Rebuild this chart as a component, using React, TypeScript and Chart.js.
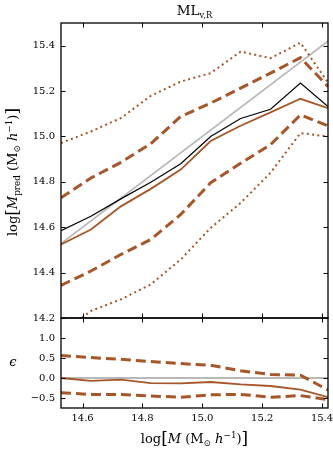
import React, { useEffect, useRef } from "react";
import { Chart, registerables } from "chart.js";
Chart.register(...registerables);

// ---- data ----
const massBins = [14.528, 14.628, 14.728, 14.828, 14.928, 15.028, 15.128, 15.228, 15.328, 15.42];
const oneToOne = [14.528, 15.42];
const medianTrue = [14.585, 14.648, 14.725, 14.798, 14.88, 15.0, 15.079, 15.12, 15.235, 15.132];
const medianPred = [14.524, 14.59, 14.692, 14.769, 14.854, 14.98, 15.047, 15.106, 15.166, 15.125];
const upper68 = [14.73, 14.817, 14.886, 14.968, 15.088, 15.147, 15.213, 15.279, 15.347, 15.22];
const lower68 = [14.344, 14.407, 14.48, 14.546, 14.656, 14.796, 14.882, 14.964, 15.095, 15.047];
const upper95 = [14.971, 15.022, 15.081, 15.179, 15.242, 15.279, 15.374, 15.345, 15.413, 15.238];
const lower95 = [14.13, 14.231, 14.282, 14.348, 14.458, 14.597, 14.707, 14.84, 15.015, 15.0];
const epsMedian = [0.0, -0.07, -0.04, -0.13, -0.135, -0.1, -0.16, -0.2, -0.29, -0.48];
const epsUpper = [0.56, 0.51, 0.47, 0.41, 0.36, 0.32, 0.18, 0.09, 0.07, -0.3];
const epsLower = [-0.37, -0.41, -0.41, -0.45, -0.48, -0.42, -0.41, -0.48, -0.44, -0.54];
const zeroLine = [0, 0];
const xTicks = [14.6, 14.8, 15.0, 15.2, 15.4];
const mainTicks = [14.2, 14.4, 14.6, 14.8, 15.0, 15.2, 15.4];
const residTicks = [-0.5, 0.0, 0.5, 1.0];

const BROWN = "#a65628";
const GREY = "#b8b8b8";
const FONT = "DejaVu Serif";

const pts = (xs: number[], ys: number[]) => xs.map((x, i) => ({ x, y: ys[i] }));

const framePlugin = {
  id: "frame",
  afterDatasetsDraw(chart: any) {
    const { ctx, chartArea: a, scales } = chart;
    const L = 4.5;
    ctx.save();
    ctx.strokeStyle = "#000";
    ctx.lineWidth = 1;
    ctx.beginPath();
    for (const t of scales.x.ticks) {
      const px = Math.round(scales.x.getPixelForValue(t.value)) + 0.5;
      ctx.moveTo(px, a.bottom);
      ctx.lineTo(px, a.bottom - L);
      ctx.moveTo(px, a.top);
      ctx.lineTo(px, a.top + L);
    }
    for (const t of scales.y.ticks) {
      const py = Math.round(scales.y.getPixelForValue(t.value)) + 0.5;
      ctx.moveTo(a.left, py);
      ctx.lineTo(a.left + L, py);
      ctx.moveTo(a.right, py);
      ctx.lineTo(a.right - L, py);
    }
    ctx.stroke();
    ctx.lineWidth = 1.3;
    ctx.strokeRect(a.left, a.top, a.right - a.left, a.bottom - a.top);
    ctx.restore();
  },
};

const line = (data: any[], color: string, width: number, dash: number[] = []) => ({
  data,
  borderColor: color,
  borderWidth: width,
  borderDash: dash,
  borderCapStyle: "butt",
  pointRadius: 0,
  tension: 0,
  fill: false,
});

const setTicks = (vals: number[]) => (s: any) => {
  s.ticks = vals.map((v) => ({ value: v }));
};

const noPad = (s: any) => {
  s.paddingTop = 0;
  s.paddingBottom = 0;
  s.paddingLeft = 0;
  s.paddingRight = 0;
};

const tickFont = { family: FONT, size: 10 };
const fmt = (v: any) => {
  const n = Number(v);
  const s = Math.abs(n).toFixed(1);
  return n < 0 ? "\u2212" + s : s;
};

export default function App() {
  const topRef = useRef<HTMLCanvasElement>(null);
  const botRef = useRef<HTMLCanvasElement>(null);

  useEffect(() => {
    document.body.style.margin = "0";
    const top = new Chart(topRef.current!, {
      type: "line",
      data: {
        datasets: [
          line(pts(massBins, medianTrue), "#000", 1.2),
          line(pts(massBins, medianPred), BROWN, 1.8),
          line(pts(massBins, upper68), BROWN, 3, [10, 5]),
          line(pts(massBins, lower68), BROWN, 3, [10, 5]),
          line(pts(massBins, upper95), BROWN, 2, [2, 3.3]),
          line(pts(massBins, lower95), BROWN, 2, [2, 3.3]),
          line(pts(oneToOne, oneToOne), GREY, 1.8),
        ] as any,
      },
      options: {
        animation: false,
        responsive: false,
        events: [],
        layout: { autoPadding: false, padding: { top: 23, right: 5, bottom: 7, left: 0 } },
        plugins: { legend: { display: false }, tooltip: { enabled: false } },
        scales: {
          x: {
            type: "linear",
            min: 14.528,
            max: 15.42,
            afterBuildTicks: setTicks(xTicks),
            ticks: { display: false },
            grid: { display: false, drawTicks: false },
            border: { display: false },
            afterFit: (s: any) => {
              s.height = 0;
              noPad(s);
            },
          },
          y: {
            type: "linear",
            min: 14.2,
            max: 15.5,
            afterBuildTicks: setTicks(mainTicks),
            ticks: { font: tickFont, color: "#000", padding: 6, callback: fmt },
            grid: { display: false, drawTicks: false },
            border: { display: false },
            afterFit: (s: any) => {
              s.width = 61;
              noPad(s);
            },
          },
        },
      } as any,
      plugins: [framePlugin],
    });

    const bot = new Chart(botRef.current!, {
      type: "line",
      data: {
        datasets: [
          line(pts(massBins, epsMedian), BROWN, 1.8),
          line(pts(massBins, epsUpper), BROWN, 3, [10, 5]),
          line(pts(massBins, epsLower), BROWN, 3, [10, 5]),
          line(pts(oneToOne, zeroLine), GREY, 1.8),
        ] as any,
      },
      options: {
        animation: false,
        responsive: false,
        events: [],
        layout: { autoPadding: false, padding: { top: 6, right: 5, bottom: 0, left: 0 } },
        plugins: { legend: { display: false }, tooltip: { enabled: false } },
        scales: {
          x: {
            type: "linear",
            min: 14.528,
            max: 15.42,
            afterBuildTicks: setTicks(xTicks),
            ticks: { font: tickFont, color: "#000", padding: 4, maxRotation: 0, callback: fmt },
            grid: { display: false, drawTicks: false },
            border: { display: false },
            afterFit: (s: any) => {
              s.height = 41;
              noPad(s);
            },
          },
          y: {
            type: "linear",
            min: -0.75,
            max: 1.5,
            afterBuildTicks: setTicks(residTicks),
            ticks: { font: tickFont, color: "#000", padding: 6, callback: fmt },
            grid: { display: false, drawTicks: false },
            border: { display: false },
            afterFit: (s: any) => {
              s.width = 61;
              noPad(s);
            },
          },
        },
      } as any,
      plugins: [framePlugin],
    });

    return () => {
      top.destroy();
      bot.destroy();
    };
  }, []);

  const sub: React.CSSProperties = { fontSize: "0.68em", verticalAlign: "-0.35em" };
  const sup: React.CSSProperties = { fontSize: "0.68em", verticalAlign: "0.55em" };
  const big: React.CSSProperties = { fontSize: "1.3em", verticalAlign: "-0.08em" };
  const label: React.CSSProperties = {
    position: "absolute",
    fontFamily: FONT,
    fontSize: 13,
    lineHeight: "16px",
    whiteSpace: "nowrap",
    color: "#000",
  };

  return (
    <div style={{ position: "fixed", left: 0, top: 0, width: 333, height: 449, background: "#fff", overflow: "hidden" }}>
      <canvas ref={topRef} width={333} height={325} style={{ position: "absolute", left: 0, top: 0 }} />
      <canvas ref={botRef} width={333} height={137} style={{ position: "absolute", left: 0, top: 312 }} />
      <div style={{ ...label, left: 61, width: 267, top: 2, textAlign: "center", fontSize: 13.5 }}>
        ML<span style={{ ...sub, fontSize: "0.62em" }}>v,R</span>
      </div>
      <div
        style={{
          ...label,
          left: 13,
          top: 172,
          transform: "translate(-50%, -50%) rotate(-90deg)",
        }}
      >
        log<span style={big}>[</span>
        <i>M</i>
        <span style={sub}>pred</span> (M<span style={sub}>⊙</span> <i>h</i>
        <span style={sup}>−1</span>)<span style={big}>]</span>
      </div>
      <div style={{ ...label, left: 13, top: 362, transform: "translate(-50%, -50%)" }}>
        <i>ϵ</i>
      </div>
      <div style={{ ...label, left: 194.5, top: 439, transform: "translate(-50%, -50%)" }}>
        log<span style={big}>[</span>
        <i>M</i> (M<span style={sub}>⊙</span> <i>h</i>
        <span style={sup}>−1</span>)<span style={big}>]</span>
      </div>
    </div>
  );
}
